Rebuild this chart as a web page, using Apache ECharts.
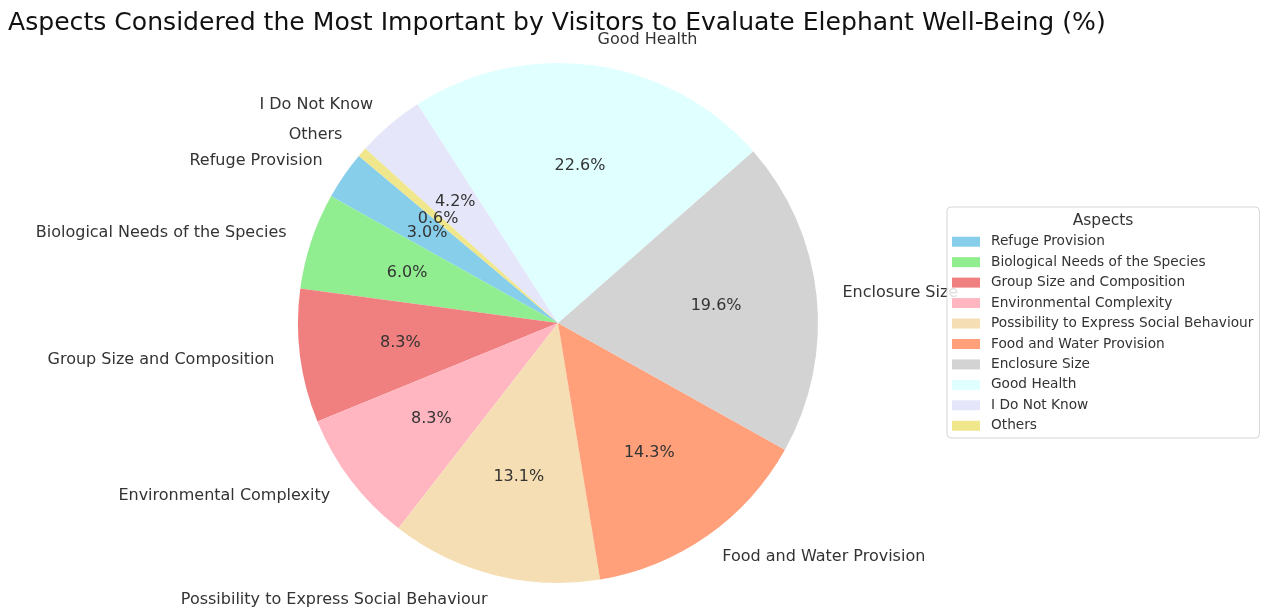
<!DOCTYPE html>
<html>
<head>
<meta charset="utf-8">
<script src="https://cdn.jsdelivr.net/npm/echarts@6/dist/echarts.min.js"></script>
<style>
  html, body { margin: 0; padding: 0; background: #fff; }
  #chart { width: 1266px; height: 607px; }
</style>
</head>
<body>
<div id="chart"></div>
<script>
// Survey answers: share of visitors naming each aspect (%)
const aspects = [
  'Refuge Provision',
  'Biological Needs of the Species',
  'Group Size and Composition',
  'Environmental Complexity',
  'Possibility to Express Social Behaviour',
  'Food and Water Provision',
  'Enclosure Size',
  'Good Health',
  'I Do Not Know',
  'Others'
];
const shares = [3.0, 6.0, 8.3, 8.3, 13.1, 14.3, 19.6, 22.6, 4.2, 0.6];
const sliceColors = [
  '#87CEEB', '#90EE90', '#F08080', '#FFB6C1', '#F5DEB3',
  '#FFA07A', '#D3D3D3', '#E0FFFF', '#E6E6FA', '#F0E68C'
];

const FONT = 'DejaVu Sans';
const cx = 558, cy = 323, R = 260;

const sliceData = aspects.map((name, i) => ({
  name,
  value: shares[i],
  itemStyle: { color: sliceColors[i] }
}));

const chart = echarts.init(document.getElementById('chart'), null, { renderer: 'canvas' });

chart.setOption({
  animation: false,
  backgroundColor: '#ffffff',
  title: [
    {
      text: 'Aspects Considered the Most Important by Visitors to Evaluate Elephant Well-Being (%)',
      left: 8,
      top: 11,
      padding: 0,
      textStyle: { fontFamily: FONT, fontSize: 25.1, fontWeight: 'normal', color: '#111' }
    },
    {
      text: 'Aspects',
      left: 1103,
      top: 221,
      textAlign: 'center',
      textVerticalAlign: 'middle',
      padding: 0,
      z: 10,
      textStyle: { fontFamily: FONT, fontSize: 15.5, fontWeight: 'normal', color: '#333' }
    }
  ],
  legend: {
    orient: 'vertical',
    left: 947,
    top: 207,
    padding: [24.5, 6, 2, 5],
    itemGap: 0,
    itemWidth: 28,
    itemHeight: 10,
    icon: 'rect',
    backgroundColor: 'rgba(255,255,255,0.85)',
    borderColor: '#d6d6d6',
    borderWidth: 1,
    borderRadius: 4,
    z: 8,
    data: aspects,
    textStyle: {
      fontFamily: FONT,
      fontSize: 13.7,
      color: '#333',
      lineHeight: 20.45,
      padding: [0, 0, 0, 6]
    }
  },
  series: [
    {
      type: 'pie',
      center: [cx, cy],
      radius: [0, R],
      startAngle: 140,
      clockwise: false,
      avoidLabelOverlap: false,
      silent: true,
      itemStyle: { borderWidth: 0 },
      label: {
        show: true,
        position: 'outside',
        formatter: '{b}',
        fontFamily: FONT,
        fontSize: 16,
        color: '#333',
        distanceToLabelLine: 0
      },
      labelLine: { show: false, length: R * 0.1, length2: 0 },
      labelLayout: { hideOverlap: false },
      data: sliceData
    },
    {
      // transparent ring whose mid-radius puts the percentages at 0.6 R
      type: 'pie',
      center: [cx, cy],
      radius: [R * 0.2, R],
      startAngle: 140,
      clockwise: false,
      avoidLabelOverlap: false,
      minShowLabelAngle: 0,
      silent: true,
      itemStyle: { color: 'rgba(0,0,0,0)', borderWidth: 0 },
      label: {
        show: true,
        position: 'inside',
        overflow: 'none',
        formatter: p => p.value.toFixed(1) + '%',
        fontFamily: FONT,
        fontSize: 16,
        color: '#333'
      },
      labelLine: { show: false },
      labelLayout: { hideOverlap: false },
      legendHoverLink: false,
      data: aspects.map((name, i) => ({ name, value: shares[i] }))
    }
  ]
});
</script>
</body>
</html>
